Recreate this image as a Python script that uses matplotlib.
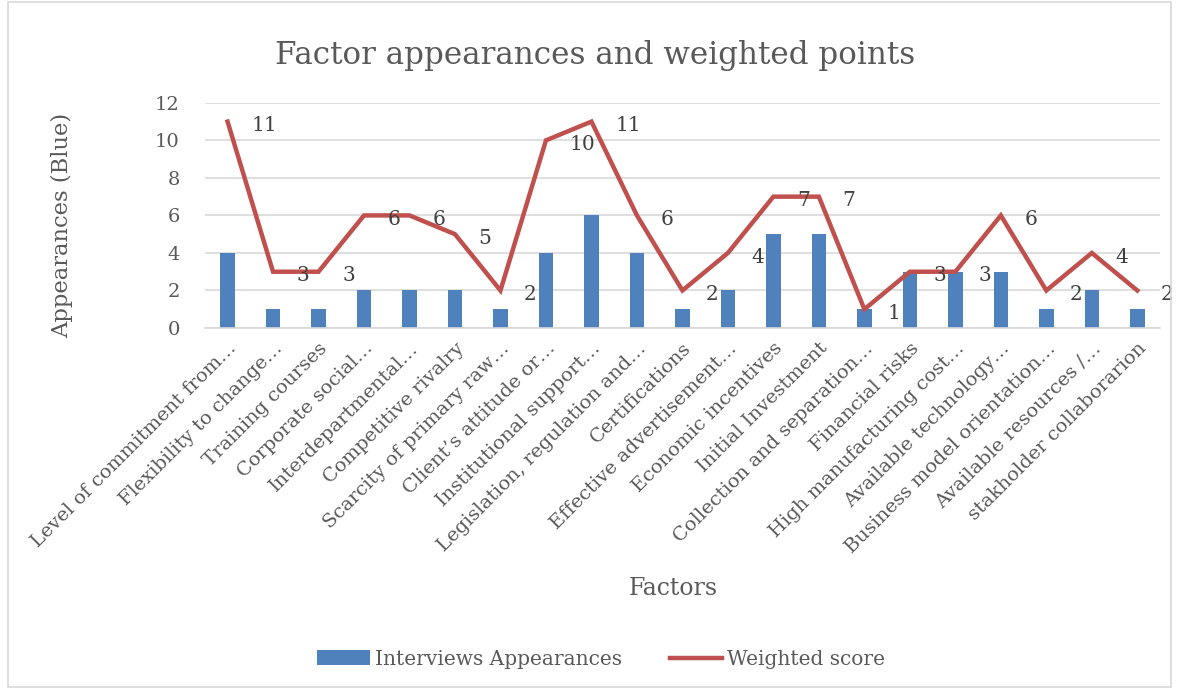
import numpy as np
import matplotlib
matplotlib.use("Agg")
import matplotlib.pyplot as plt
from matplotlib.patches import Rectangle

factors = [
    "Level of commitment from…", "Flexibility to change…", "Training courses",
    "Corporate social…", "Interdepartmental…", "Competitive rivalry",
    "Scarcity of primary raw…", "Client’s attitude or…", "Institutional support…",
    "Legislation, regulation and…", "Certifications", "Effective advertisement…",
    "Economic incentives", "Initial Investment", "Collection and separation…",
    "Financial risks", "High manufacturing cost…", "Available technology…",
    "Business model orientation…", "Available resources /…", "stakholder collaborarion",
]
appearances = [4, 1, 1, 2, 2, 2, 1, 4, 6, 4, 1, 2, 5, 5, 1, 3, 3, 3, 1, 2, 1]
weighted = [11, 3, 3, 6, 6, 5, 2, 10, 11, 6, 2, 4, 7, 7, 1, 3, 3, 6, 2, 4, 2]

blue = "#4F81BD"
red = "#C0504D"
txt = "#595959"
grid = "#D9D9D9"

plt.rcParams['font.family'] = ['DejaVu Serif']

fig = plt.figure(figsize=(11.77, 6.9), dpi=100)
ax = fig.add_axes([0.174, 0.5246, 0.8116, 0.3264])

x = np.arange(len(factors))
bars = ax.bar(x, appearances, width=0.32, color=blue, zorder=2)
line, = ax.plot(x, weighted, color=red, lw=3.2, zorder=3, solid_joinstyle='miter')
for xi, v in zip(x, weighted):
    ax.annotate(str(v), (xi, v), xytext=(17, -3), textcoords='offset points',
                ha='left', va='center', fontsize=14.5, color="#404040", zorder=4)

ax.set_xlim(-0.5, len(factors) - 0.5)
ax.set_ylim(0, 12)
ax.set_yticks(range(0, 13, 2))
ax.yaxis.grid(True, color=grid, lw=1.2, zorder=0)
ax.set_axisbelow(True)
for s in ['top', 'right', 'left']:
    ax.spines[s].set_visible(False)
ax.spines['bottom'].set_color(grid)
ax.spines['bottom'].set_linewidth(1.2)
ax.tick_params(axis='both', length=0, colors=txt, labelsize=14)
ax.tick_params(axis='y', pad=18)
ax.tick_params(axis='x', pad=8)
ax.set_xticks(x)
ax.set_xticklabels(factors, rotation=45, ha='right', rotation_mode='anchor')

ax.set_ylabel("Appearances (Blue)", fontsize=16.3, color=txt)
ax.yaxis.set_label_coords(-0.1376, 0.455)
ax.set_xlabel("Factors", fontsize=17, color=txt)
ax.xaxis.set_label_coords(0.49, -1.105)

fig.text(0.506, 0.92, "Factor appearances and weighted points", ha='center',
         va='center', fontsize=22.3, color=txt)

ax.legend([bars, line], ["Interviews Appearances", "Weighted score"],
          loc='center', bbox_to_anchor=(0.415, -1.47), ncol=2, frameon=False,
          fontsize=14.5, labelcolor=txt, handlelength=2.6, columnspacing=2.4,
          handletextpad=0.25)

fig.patches.append(Rectangle((0.007, 0.004), 0.988, 0.993, transform=fig.transFigure,
                             fill=False, edgecolor=grid, lw=1.2))

fig.savefig("out.png", dpi=100)
